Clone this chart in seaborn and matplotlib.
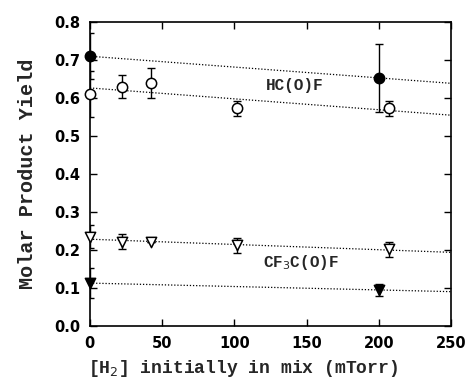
import matplotlib
matplotlib.use("Agg")
import matplotlib.pyplot as plt
import seaborn as sns
import pandas as pd
import numpy as np

# HC(O)F, filled circles
hcof_fill_x = [0, 200]
hcof_fill_y = [0.71, 0.653]
hcof_fill_err = [0.06, 0.09]

# HC(O)F, open circles
hcof_open_x = [0, 22, 42, 102, 207]
hcof_open_y = [0.61, 0.63, 0.64, 0.573, 0.573]
hcof_open_err = [0.06, 0.03, 0.04, 0.02, 0.02]

# CF3C(O)F, open triangles
cf3_open_x = [0, 22, 42, 102, 207]
cf3_open_y = [0.235, 0.222, 0.22, 0.212, 0.202]
cf3_open_err = [0.03, 0.02, 0.0, 0.02, 0.02]

# CF3C(O)F, filled triangles
cf3_fill_x = [0, 200]
cf3_fill_y = [0.113, 0.095]
cf3_fill_err = [0.04, 0.015]

sns.set_style("ticks")
plt.rcParams['font.family'] = ['DejaVu Sans']

fig, ax = plt.subplots(figsize=(4.68, 3.8), dpi=100)
fig.subplots_adjust(left=0.192, right=0.964, top=0.942, bottom=0.142)
ax.set_xlim(0, 250)
ax.set_ylim(0, 0.8)

series = [
    (hcof_fill_x, hcof_fill_y, hcof_fill_err, 'o', 'black'),
    (hcof_open_x, hcof_open_y, hcof_open_err, 'o', 'white'),
    (cf3_open_x, cf3_open_y, cf3_open_err, 'v', 'white'),
    (cf3_fill_x, cf3_fill_y, cf3_fill_err, 'v', 'black'),
]

for xs, ys, es, mk, fc in series:
    df = pd.DataFrame({'x': xs, 'y': ys})
    # fitted line across full axis
    sns.regplot(data=df, x='x', y='y', ax=ax, ci=None, scatter=False, truncate=False,
                line_kws={'color': 'black', 'lw': 0.9, 'ls': (0, (1, 1.5))})
    ax.errorbar(xs, ys, yerr=es, fmt='none', ecolor='black', elinewidth=1.0,
                capsize=3.2, capthick=1.0, zorder=3)
    sns.scatterplot(data=df, x='x', y='y', ax=ax, marker=mk, s=55, color=fc,
                    edgecolor='black', linewidth=1.1, zorder=4, clip_on=False)

mono = 'Liberation Mono'
ax.text(142, 0.634, 'HC(O)F', family=mono, fontsize=11.5, fontweight='bold',
        ha='center', va='center')
ax.text(146, 0.166, 'CF$_3$C(O)F', family=mono, fontsize=11.5, fontweight='bold',
        ha='center', va='center')

ax.set_xticks([0, 50, 100, 150, 200, 250])
ax.set_yticks(np.arange(0, 0.81, 0.1))
ax.set_yticklabels([f'{v:.1f}' for v in np.arange(0, 0.81, 0.1)])
ax.tick_params(direction='in', length=5, width=1, top=True, right=True,
               labelsize=10.5, colors='black', pad=7)
for lab in ax.get_xticklabels() + ax.get_yticklabels():
    lab.set_fontweight('bold')

ax.set_xlabel('[H$_2$] initially in mix (mTorr)', family=mono,
              fontsize=13, fontweight='bold')
ax.xaxis.set_label_coords(0.425, -0.105)
ax.set_ylabel('Molar Product Yield', family=mono,
              fontsize=14.5, fontweight='bold', labelpad=12)
for sp in ax.spines.values():
    sp.set_linewidth(1.2)
    sp.set_color('black')

fig.savefig('out.png', dpi=100)
